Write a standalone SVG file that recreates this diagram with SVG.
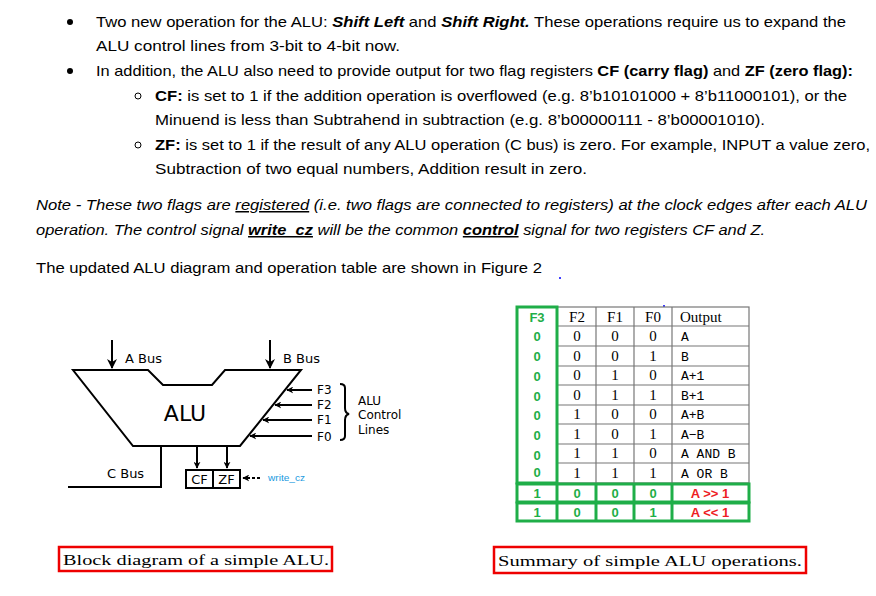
<svg xmlns="http://www.w3.org/2000/svg" width="876" height="596" viewBox="0 0 876 596">
<defs>
<marker id="ah" viewBox="0 0 10 10" refX="9" refY="5" markerWidth="7" markerHeight="7" orient="auto" markerUnits="userSpaceOnUse"><path d="M0,0 L10,5 L0,10 L3,5 z" fill="#000"/></marker>
<marker id="ahb" viewBox="0 0 10 10" refX="9" refY="5" markerWidth="10" markerHeight="10" orient="auto" markerUnits="userSpaceOnUse"><path d="M0,0 L10,5 L0,10 L3,5 z" fill="#000"/></marker>
</defs>
<style>
.doc{font-family:"Liberation Sans",Arial,sans-serif;font-size:15px;fill:#000}
.it{font-style:italic}
.b{font-weight:bold}
.dg{font-family:"DejaVu Sans",sans-serif;fill:#000}
.ser{font-family:"Liberation Serif",serif;font-size:15px;fill:#000}
.mono{font-family:"Liberation Mono",monospace;font-size:13px;fill:#000}
.gr{font-family:"Liberation Sans",sans-serif;font-weight:bold;font-size:13px;fill:#1fae48;text-anchor:middle}
.rd{font-family:"Liberation Sans",sans-serif;font-weight:bold;font-size:13px;fill:#ee1c24;text-anchor:middle}
.cell{font-family:"Liberation Serif",serif;font-size:15px;fill:#000;text-anchor:middle}
.ln{stroke:#000;stroke-width:2;fill:none}
</style>
<rect width="876" height="596" fill="#fff"/>
<g id="text">
<circle cx="70" cy="22" r="3"/>
<text class="doc" x="96" y="27" textLength="750" lengthAdjust="spacingAndGlyphs">Two new operation for the ALU: <tspan class="b it">Shift Left</tspan> and <tspan class="b it">Shift Right.</tspan> These operations require us to expand the</text>
<text class="doc" x="96" y="51" textLength="304" lengthAdjust="spacingAndGlyphs">ALU control lines from 3-bit to 4-bit now.</text>
<circle cx="70" cy="71" r="3"/>
<text class="doc" x="96" y="76" textLength="757" lengthAdjust="spacingAndGlyphs">In addition, the ALU also need to provide output for two flag registers <tspan class="b">CF (carry flag)</tspan> and <tspan class="b">ZF (zero flag):</tspan></text>
<circle cx="138" cy="96" r="3" fill="none" stroke="#000" stroke-width="1"/>
<text class="doc" x="155" y="101" textLength="692" lengthAdjust="spacingAndGlyphs"><tspan class="b">CF:</tspan> is set to 1 if the addition operation is overflowed (e.g. 8’b10101000 + 8’b11000101), or the</text>
<text class="doc" x="155" y="125" textLength="610" lengthAdjust="spacingAndGlyphs">Minuend is less than Subtrahend in subtraction (e.g. 8’b00000111 - 8’b00001010).</text>
<circle cx="138" cy="145" r="3" fill="none" stroke="#000" stroke-width="1"/>
<text class="doc" x="155" y="150" textLength="715" lengthAdjust="spacingAndGlyphs"><tspan class="b">ZF:</tspan> is set to 1 if the result of any ALU operation (C bus) is zero. For example, INPUT a value zero,</text>
<text class="doc" x="155" y="174" textLength="432" lengthAdjust="spacingAndGlyphs">Subtraction of two equal numbers, Addition result in zero.</text>
<text class="doc it" x="36" y="210" textLength="831" lengthAdjust="spacingAndGlyphs">Note - These two flags are <tspan text-decoration="underline">registered</tspan> (i.e. two flags are connected to registers) at the clock edges after each ALU</text>
<text class="doc it" x="36" y="235" textLength="729" lengthAdjust="spacingAndGlyphs">operation. The control signal <tspan class="b" text-decoration="underline">write_cz</tspan> will be the common <tspan class="b" text-decoration="underline">control</tspan> signal for two registers CF and Z.</text>
<text class="doc" x="36" y="273" textLength="506" lengthAdjust="spacingAndGlyphs">The updated ALU diagram and operation table are shown in Figure 2</text>
<circle cx="560" cy="278" r="1" fill="#00f"/>
<circle cx="664" cy="306" r="1" fill="#00f"/>
</g>
<g id="alu">
<polygon points="73,370 148,370 163,385 212,385 225,370 301,370 240,446 133,446" fill="#fff" stroke="#000" stroke-width="2"/>
<text class="dg" x="185" y="421" font-size="22" text-anchor="middle">ALU</text>
</g>
<g id="labels" class="dg" font-size="13">
<text x="125" y="363">A Bus</text>
<text x="283" y="363">B Bus</text>
<text x="107" y="478">C Bus</text>
<text x="317" y="394" font-size="12">F3</text>
<text x="317" y="409" font-size="12">F2</text>
<text x="317" y="424" font-size="12">F1</text>
<text x="317" y="441" font-size="12">F0</text>
<text x="358" y="405" font-size="12">ALU</text>
<text x="358" y="419" font-size="12">Control</text>
<text x="358" y="434" font-size="12">Lines</text>
<text x="268" y="481" font-size="9" fill="#1a9ae0" font-family="Liberation Sans,sans-serif" textLength="37" lengthAdjust="spacingAndGlyphs">write_cz</text>
</g>
<g id="flags">
<rect x="186" y="470" width="54" height="18" fill="#fff" stroke="#000" stroke-width="2"/>
<line x1="213" y1="470" x2="213" y2="488" stroke="#000" stroke-width="2"/>
<text class="dg" x="199.5" y="484" font-size="13" text-anchor="middle">CF</text>
<text class="dg" x="226.5" y="484" font-size="13" text-anchor="middle">ZF</text>
</g>
<g id="connectors">
<line class="ln" x1="112" y1="340" x2="112" y2="368" marker-end="url(#ahb)"/>
<line class="ln" x1="270" y1="340" x2="270" y2="368" marker-end="url(#ahb)"/>
<line class="ln" x1="312" y1="390" x2="287" y2="390" marker-end="url(#ah)"/>
<line class="ln" x1="312" y1="405" x2="275" y2="405" marker-end="url(#ah)"/>
<line class="ln" x1="312" y1="420" x2="263" y2="420" marker-end="url(#ah)"/>
<line class="ln" x1="312" y1="436" x2="250" y2="436" marker-end="url(#ah)"/>
<path class="ln" d="M340,384 q5,0 5,4 v20 q0,5 4,6 q-4,1 -4,6 v16 q0,4 -5,4"/>
<path class="ln" d="M161,446 V487 H68" stroke-width="3"/>
<line class="ln" x1="197" y1="446" x2="197" y2="468" marker-end="url(#ah)"/>
<line class="ln" x1="227" y1="446" x2="227" y2="468" marker-end="url(#ah)"/>
<line class="ln" x1="260" y1="478" x2="243" y2="478" stroke-dasharray="3,2" stroke-width="1.5" marker-end="url(#ah)"/>
</g>
<g id="table">
<g stroke="#777" stroke-width="1.2" fill="none">
<rect x="557" y="307" width="192" height="176"/>
<line x1="596" y1="307" x2="596" y2="483"/><line x1="634" y1="307" x2="634" y2="483"/><line x1="672" y1="307" x2="672" y2="483"/>
<line x1="557" y1="326" x2="749" y2="326"/><line x1="557" y1="346" x2="749" y2="346"/><line x1="557" y1="366" x2="749" y2="366"/><line x1="557" y1="385" x2="749" y2="385"/><line x1="557" y1="405" x2="749" y2="405"/><line x1="557" y1="424" x2="749" y2="424"/><line x1="557" y1="444" x2="749" y2="444"/><line x1="557" y1="463" x2="749" y2="463"/>
</g>
<g stroke="#1fae48" stroke-width="3" fill="none">
<rect x="517" y="307" width="40" height="176"/>
<rect x="517" y="484" width="232" height="18"/>
<rect x="517" y="503" width="232" height="18"/>
<line x1="557" y1="484" x2="557" y2="521"/><line x1="596" y1="484" x2="596" y2="521"/><line x1="634" y1="484" x2="634" y2="521"/><line x1="672" y1="484" x2="672" y2="521"/>
</g>
<text class="gr" x="537" y="322">F3</text>
<text class="gr" x="537" y="341">0</text><text class="gr" x="537" y="361">0</text><text class="gr" x="537" y="381">0</text><text class="gr" x="537" y="401">0</text><text class="gr" x="537" y="420">0</text><text class="gr" x="537" y="440">0</text><text class="gr" x="537" y="460">0</text><text class="gr" x="537" y="477">0</text>
<text class="cell" x="577" y="322">F2</text><text class="cell" x="615" y="322">F1</text><text class="cell" x="653" y="322">F0</text><text class="ser" x="680" y="322">Output</text>
<g class="cell">
<text x="577" y="341">0</text><text x="615" y="341">0</text><text x="653" y="341">0</text>
<text x="577" y="361">0</text><text x="615" y="361">0</text><text x="653" y="361">1</text>
<text x="577" y="380">0</text><text x="615" y="380">1</text><text x="653" y="380">0</text>
<text x="577" y="400">0</text><text x="615" y="400">1</text><text x="653" y="400">1</text>
<text x="577" y="419">1</text><text x="615" y="419">0</text><text x="653" y="419">0</text>
<text x="577" y="439">1</text><text x="615" y="439">0</text><text x="653" y="439">1</text>
<text x="577" y="458">1</text><text x="615" y="458">1</text><text x="653" y="458">0</text>
<text x="577" y="478">1</text><text x="615" y="478">1</text><text x="653" y="478">1</text>
</g>
<g class="mono">
<text x="681" y="341">A</text><text x="681" y="361">B</text><text x="681" y="380">A+1</text><text x="681" y="400">B+1</text><text x="681" y="419">A+B</text><text x="681" y="439">A−B</text><text x="681" y="458">A AND B</text><text x="681" y="478">A OR B</text>
</g>
<text class="gr" x="537" y="498">1</text><text class="gr" x="577" y="498">0</text><text class="gr" x="615" y="498">0</text><text class="gr" x="653" y="498">0</text><text class="rd" x="710" y="498">A &gt;&gt; 1</text>
<text class="gr" x="537" y="517">1</text><text class="gr" x="577" y="517">0</text><text class="gr" x="615" y="517">0</text><text class="gr" x="653" y="517">1</text><text class="rd" x="710" y="517">A &lt;&lt; 1</text>
</g>
<g id="captions">
<rect x="59" y="547" width="273" height="24" fill="none" stroke="#e00" stroke-width="2.5"/>
<text class="ser" x="63" y="565" textLength="266" lengthAdjust="spacingAndGlyphs">Block diagram of a simple ALU.</text>
<rect x="494" y="547" width="312" height="26" fill="none" stroke="#e00" stroke-width="2.5"/>
<text class="ser" x="498" y="566" textLength="304" lengthAdjust="spacingAndGlyphs">Summary of simple ALU operations.</text>
</g>
</svg>
